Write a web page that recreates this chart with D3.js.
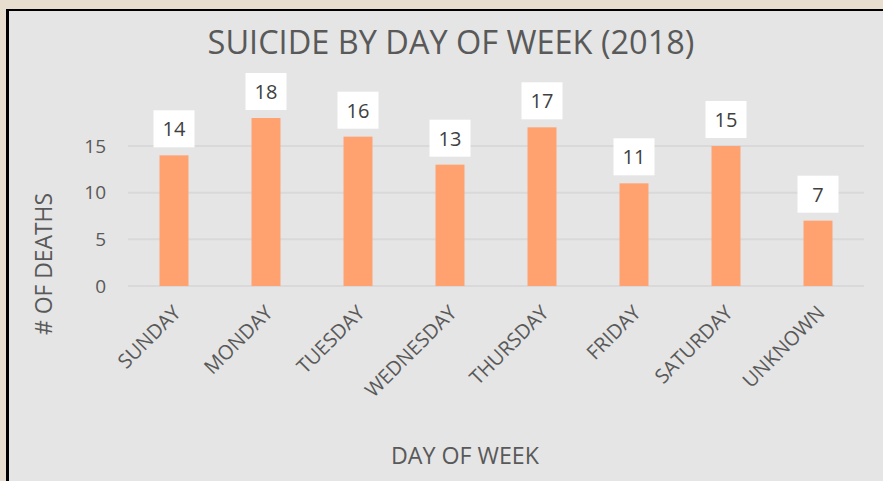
<!DOCTYPE html>
<html>
<head>
<meta charset="utf-8">
<script src="https://cdn.jsdelivr.net/npm/d3@7"></script>
<style>
  body { margin: 0; background: #e8decf; }
  svg { display: block; }
  text { font-family: "Open Sans", sans-serif; }
</style>
</head>
<body>
<div id="chart"></div>
<script>
// Suicide by day of week (2018)
const days = ["SUNDAY", "MONDAY", "TUESDAY", "WEDNESDAY", "THURSDAY", "FRIDAY", "SATURDAY", "UNKNOWN"];
const deaths = [14, 18, 16, 13, 17, 11, 15, 7];
const yTicks = [0, 5, 10, 15];

const W = 883, H = 481;
const margin = {top: 60, right: 19, bottom: 195, left: 128};
const svg = d3.select("#chart").append("svg").attr("width", W).attr("height", H);

// panel + border (left and top only, the rest runs off the page)
svg.append("rect").attr("x", 9).attr("y", 11).attr("width", W - 9).attr("height", H - 11).attr("fill", "#e5e5e5");
svg.append("line").attr("x1", 7.5).attr("x2", 7.5).attr("y1", 9).attr("y2", H).attr("stroke", "#000").attr("stroke-width", 3);
svg.append("line").attr("x1", 6).attr("x2", W).attr("y1", 10).attr("y2", 10).attr("stroke", "#000").attr("stroke-width", 2);

const data = days.map((d, i) => ({day: d, value: deaths[i]}));

const x = d3.scaleBand().domain(days).range([margin.left, W - margin.right]).paddingInner(0.685).paddingOuter(0.3425);
const y = d3.scaleLinear().domain([0, 15]).range([H - margin.bottom, H - margin.bottom - 140]);

// fit a text element to a target width
function fit(sel, target) {
  const n = sel.node(), fs = parseFloat(sel.style("font-size"));
  sel.style("font-size", (fs * target / n.getComputedTextLength()) + "px");
}

// gridlines
svg.append("g").selectAll("line").data(yTicks).join("line")
  .attr("x1", margin.left).attr("x2", W - margin.right)
  .attr("y1", d => y(d)).attr("y2", d => y(d))
  .attr("stroke", "#d9d9d9").attr("stroke-width", 2);

// y axis labels
const yAxis = svg.append("g").attr("transform", `translate(${margin.left - 22},0)`)
  .call(d3.axisLeft(y).tickValues(yTicks).tickSize(0).tickPadding(0));
yAxis.select(".domain").remove();
yAxis.selectAll("text").style("font-size", "19px").attr("fill", "#595959").attr("font-family", "Open Sans");

// bars
svg.selectAll("rect.bar").data(data).join("rect")
  .attr("class", "bar")
  .attr("x", d => x(d.day)).attr("y", d => y(d.value))
  .attr("width", x.bandwidth()).attr("height", d => y(0) - y(d.value))
  .attr("fill", "#ffa26f");

// value labels in white boxes
const lab = svg.selectAll("g.lab").data(data).join("g").attr("class", "lab")
  .attr("transform", d => `translate(${x(d.day) + x.bandwidth() / 2},${y(d.value) - 8})`);
lab.append("rect").attr("x", -20.5).attr("y", -37).attr("width", 41).attr("height", 37).attr("fill", "#fff");
lab.append("text").attr("text-anchor", "middle").attr("y", -11)
  .style("font-size", "20px").attr("fill", "#404040").text(d => d.value);

// rotated category labels
svg.append("g").selectAll("text").data(days).join("text")
  .attr("text-anchor", "end")
  .attr("transform", d => `translate(${x(d) + x.bandwidth() / 2 + 8},${y(0) + 28}) rotate(-45)`)
  .style("font-size", "20px").attr("fill", "#595959").text(d => d);

// titles
const title = svg.append("text").attr("x", 451).attr("y", 54).attr("text-anchor", "middle")
  .style("font-size", "30px").attr("fill", "#595959").text("SUICIDE BY DAY OF WEEK (2018)");
fit(title, 487);

const xTitle = svg.append("text").attr("x", 465).attr("y", 464).attr("text-anchor", "middle")
  .style("font-size", "20px").attr("fill", "#595959").text("DAY OF WEEK");
fit(xTitle, 148);

const yTitle = svg.append("text").attr("transform", "translate(52,264) rotate(-90)").attr("text-anchor", "middle")
  .style("font-size", "20px").attr("fill", "#595959").text("# OF DEATHS");
fit(yTitle, 142);
</script>
</body>
</html>
